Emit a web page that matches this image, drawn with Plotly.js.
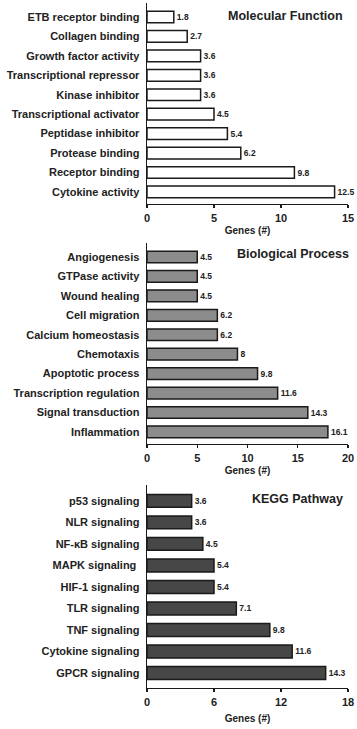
<!DOCTYPE html>
<html>
<head>
<meta charset="utf-8">
<script src="https://cdn.plot.ly/plotly-3.0.1.min.js"></script>
<style>html,body{margin:0;padding:0;background:#fff;}#chart{width:357px;height:729px;}</style>
</head>
<body>
<div id="chart"></div>
<script>
// Molecular Function (listed bottom to top)
const mfCategories = ["Cytokine activity","Receptor binding","Protease binding","Peptidase inhibitor","Transcriptional activator","Kinase inhibitor","Transcriptional repressor","Growth factor activity","Collagen binding","ETB receptor binding"];
const mfGenes = [14, 11, 7, 6, 5, 4, 4, 4, 3, 2];
const mfPercent = ["12.5","9.8","6.2","5.4","4.5","3.6","3.6","3.6","2.7","1.8"];

// Biological Process
const bpCategories = ["Inflammation","Signal transduction","Transcription regulation","Apoptotic process","Chemotaxis","Calcium homeostasis","Cell migration","Wound healing","GTPase activity","Angiogenesis"];
const bpGenes = [18, 16, 13, 11, 9, 7, 7, 5, 5, 5];
const bpPercent = ["16.1","14.3","11.6","9.8","8","6.2","6.2","4.5","4.5","4.5"];

// KEGG Pathway
const kgCategories = ["GPCR signaling","Cytokine signaling","TNF signaling","TLR signaling","HIF-1 signaling","MAPK signaling ","NF-\u03baB signaling","NLR signaling","p53 signaling"];
const kgGenes = [16, 13, 11, 8, 6, 6, 5, 4, 4];
const kgPercent = ["14.3","11.6","9.8","7.1","5.4","5.4","4.5","3.6","3.6"];

const panelTitles = ["Molecular Function","Biological Process","KEGG Pathway"];
const xTitle = "Genes (#)";

const FONT = "Liberation Sans, Arial, sans-serif";
const H = 729, W = 357;
const py = p => 1 - p / H;

function barTrace(cats, vals, txt, fill, xa, ya) {
  return {
    type: "bar", orientation: "h",
    y: cats, x: vals, text: txt,
    textposition: "outside", cliponaxis: false,
    textfont: {family: FONT, size: 8.5, color: "#222", weight: "bold"},
    marker: {color: fill, line: {color: "#1a1a1a", width: 1.5}},
    width: 0.6,
    xaxis: xa, yaxis: ya, hoverinfo: "skip", showlegend: false
  };
}

const traces = [
  barTrace(mfCategories, mfGenes, mfPercent, "#ffffff", "x", "y"),
  barTrace(bpCategories, bpGenes, bpPercent, "#8c8c8c", "x2", "y2"),
  barTrace(kgCategories, kgGenes, kgPercent, "#474747", "x3", "y3")
];

const xDom = [147 / W, 348 / W];
function xAxis(anchor, range, dtick, standoff) {
  return {
    domain: xDom, anchor: anchor, range: range, dtick: dtick, tick0: 0,
    showgrid: false, zeroline: false, showline: true, linecolor: "#1a1a1a", linewidth: 1.4,
    ticks: "outside", ticklen: 3, tickwidth: 1.2, tickcolor: "#1a1a1a",
    tickfont: {family: FONT, size: 11, color: "#222", weight: "bold"},
    title: {text: xTitle, font: {family: FONT, size: 10, color: "#222", weight: "bold"}, standoff: standoff}
  };
}
function yAxis(anchor, cats, dom, range) {
  return {
    domain: dom, anchor: anchor, type: "category",
    categoryorder: "array", categoryarray: cats, range: range,
    showgrid: false, zeroline: false, showline: true, linecolor: "#1a1a1a", linewidth: 1.4,
    ticks: "", ticklabelstandoff: 4,
    tickfont: {family: FONT, size: 11, color: "#222", weight: "bold"}
  };
}

const titleFont = {family: FONT, size: 12.5, color: "#222", weight: "bold"};
const layout = {
  width: W, height: H,
  margin: {l: 0, r: 0, t: 0, b: 0},
  paper_bgcolor: "#fff", plot_bgcolor: "#fff",
  xaxis: xAxis("y", [0, 15], 5, 4),
  yaxis: yAxis("x", mfCategories, [py(204), py(3)], [-0.62, 9.72]),
  xaxis2: xAxis("y2", [0, 20], 5, 4),
  yaxis2: yAxis("x2", bpCategories, [py(444), py(243)], [-0.62, 9.72]),
  xaxis3: xAxis("y3", [0, 18], 6, 8),
  yaxis3: yAxis("x3", kgCategories, [py(688), py(485)], [-0.70, 8.74]),
  bargap: 0.4,
  annotations: [
    {text: panelTitles[0], x: 285 / W, y: py(16), xanchor: "center", yanchor: "middle", xref: "paper", yref: "paper", showarrow: false, font: titleFont},
    {text: panelTitles[1], x: 293 / W, y: py(254), xanchor: "center", yanchor: "middle", xref: "paper", yref: "paper", showarrow: false, font: titleFont},
    {text: panelTitles[2], x: 297 / W, y: py(499), xanchor: "center", yanchor: "middle", xref: "paper", yref: "paper", showarrow: false, font: titleFont}
  ]
};

Plotly.newPlot("chart", traces, layout, {staticPlot: true, displayModeBar: false});
</script>
</body>
</html>
